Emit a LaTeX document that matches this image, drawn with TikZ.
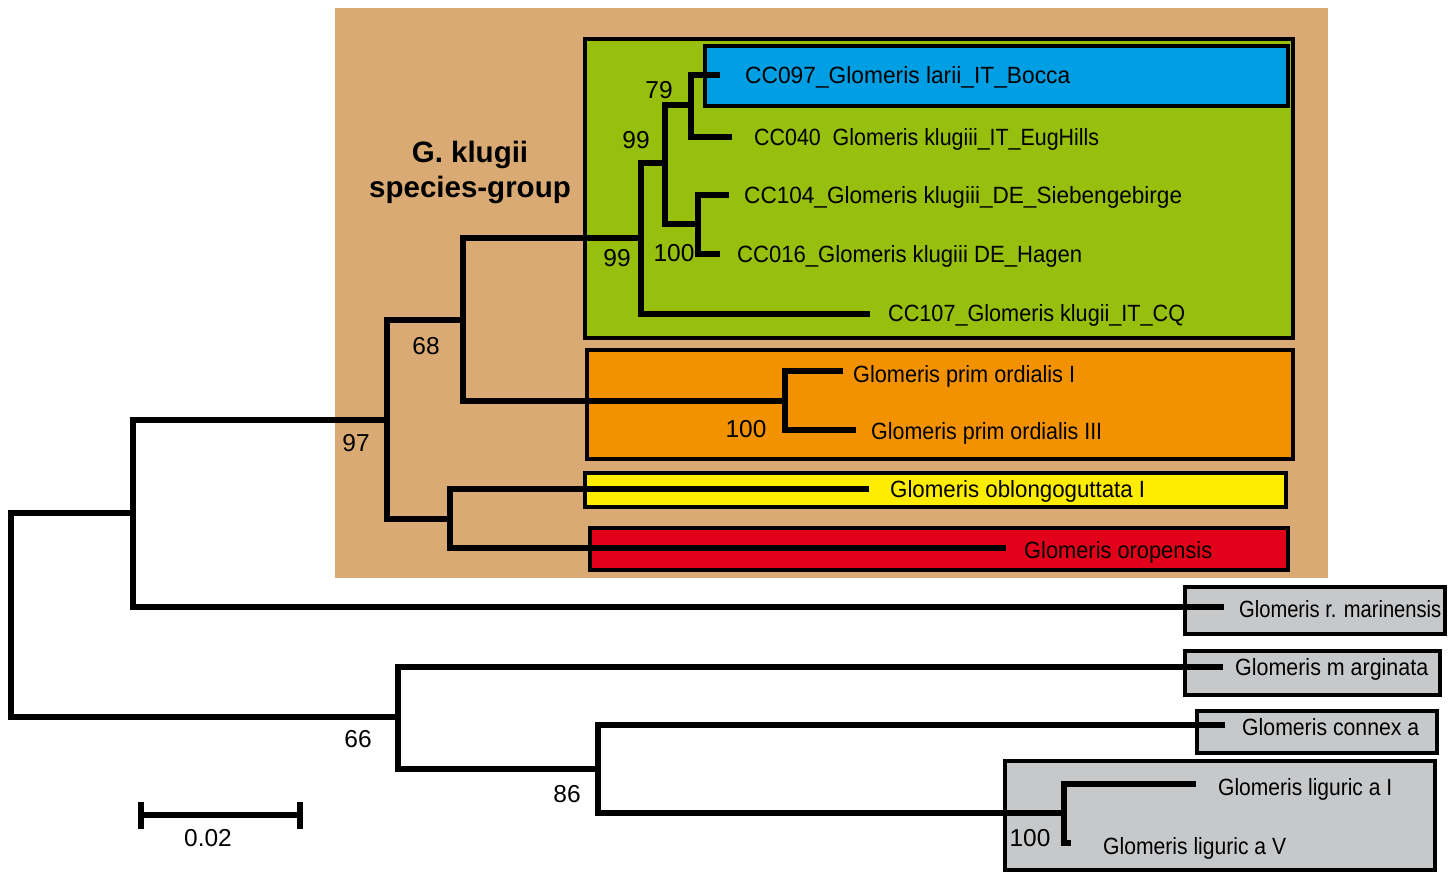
\documentclass[tikz,border=0pt]{standalone}
\usepackage{fontspec}
\usepackage{graphicx}
\setmainfont{Liberation Sans}
\definecolor{tan}{RGB}{217,170,115}
\definecolor{kgreen}{RGB}{151,191,13}
\definecolor{kblue}{RGB}{0,159,227}
\definecolor{korange}{RGB}{243,146,0}
\definecolor{kyellow}{RGB}{255,237,0}
\definecolor{kred}{RGB}{226,0,26}
\definecolor{kgrey}{RGB}{199,200,202}
\newcommand\lab[2]{\resizebox{#1pt}{\height}{#2}}
\begin{document}
\begin{tikzpicture}[x=1pt,y=-1pt,
  box/.style={draw=black,line width=4pt},
  branch/.style={draw=black,line width=6pt,line join=miter,line cap=butt},
  tiplab/.style={anchor=west,inner sep=0pt,font=\fontsize{23.5}{27}\selectfont,text height=16.8pt,text depth=0pt},
  support/.style={anchor=center,inner sep=0pt,font=\fontsize{24.5}{28}\selectfont,text height=17.5pt,text depth=0pt},
  title/.style={anchor=center,inner sep=0pt,font=\fontsize{29.5}{33}\bfseries\selectfont,text height=21pt,text depth=0pt}]
\useasboundingbox (0,0) rectangle (1455,873);
% background group
\fill[tan] (335,8) rectangle (1328,578);
% coloured boxes
\draw[box,fill=kgreen] (585,39) rectangle (1293,338);
\draw[box,fill=kblue] (705,46) rectangle (1288,106);
\draw[box,fill=korange] (587,350) rectangle (1293,459);
\draw[box,fill=kyellow] (585,473) rectangle (1286,507);
\draw[box,fill=kred] (590,528) rectangle (1288,570);
\draw[box,fill=kgrey] (1185,587) rectangle (1445,634);
\draw[box,fill=kgrey] (1185,651) rectangle (1440,695);
\draw[box,fill=kgrey] (1197,711) rectangle (1437,753);
\draw[box,fill=kgrey] (1005,761) rectangle (1435,870);
% tips
\coordinate (t097) at (720,75);
\coordinate (t040) at (732,137);
\coordinate (t104) at (729,195);
\coordinate (t016) at (720,254);
\coordinate (t107) at (870,314);
\coordinate (tpI) at (843,371);
\coordinate (tpIII) at (856,430);
\coordinate (tob) at (869,489);
\coordinate (tor) at (1006,548);
\coordinate (tmar) at (1224,607);
\coordinate (tmarg) at (1223,667);
\coordinate (tcon) at (1225,725);
\coordinate (tlI) at (1196,784);
\coordinate (tlV) at (1071,843);
% internal nodes
\coordinate (F) at (691,105);
\coordinate (G) at (698,224);
\coordinate (E) at (665,163);
\coordinate (D) at (641,238);
\coordinate (P) at (785,401);
\coordinate (C) at (463,320);
\coordinate (H) at (450,519);
\coordinate (B) at (387,420);
\coordinate (A) at (133,513);
\coordinate (K) at (1064,813);
\coordinate (J) at (598,769);
\coordinate (I) at (398,717);
\coordinate (R) at (11,615);
% branches
\draw[branch] (t097) -| (F) |- (t040);
\draw[branch] (t104) -| (G) |- (t016);
\draw[branch] (F) -| (E) |- (G);
\draw[branch] (E) -| (D) |- (t107);
\draw[branch] (tpI) -| (P) |- (tpIII);
\draw[branch] (D) -| (C) |- (P);
\draw[branch] (tob) -| (H) |- (tor);
\draw[branch] (C) -| (B) |- (H);
\draw[branch] (B) -| (A) |- (tmar);
\draw[branch] (tlI) -| (K) |- (tlV);
\draw[branch] (tcon) -| (J) |- (K);
\draw[branch] (tmarg) -| (I) |- (J);
\draw[branch] (A) -| (R) |- (I);
% tip labels
\node[tiplab] (l097) at (745,75) {\lab{325}{CC097\_Glomeris larii\_IT\_Bocca}};
\node[tiplab] (l040) at (754,137) {\lab{345}{CC040 \ Glomeris klugiii\_IT\_EugHills}};
\node[tiplab] (l104) at (744,195) {\lab{438}{CC104\_Glomeris klugiii\_DE\_Siebengebirge}};
\node[tiplab] (l016) at (737,254) {\lab{345}{CC016\_Glomeris klugiii DE\_Hagen}};
\node[tiplab] (l107) at (888,313) {\lab{297}{CC107\_Glomeris klugii\_IT\_CQ}};
\node[tiplab] (lpI) at (853,374) {\lab{222}{Glomeris prim ordialis I}};
\node[tiplab] (lpIII) at (871,431) {\lab{231}{Glomeris prim ordialis III}};
\node[tiplab] (lob) at (890,489) {\lab{255}{Glomeris oblongoguttata I}};
\node[tiplab] (lor) at (1024,550) {\lab{188}{Glomeris oropensis}};
\node[tiplab] (lmar) at (1239,609) {\lab{202}{Glomeris r. marinensis}};
\node[tiplab] (lmarg) at (1235,667) {\lab{193}{Glomeris m arginata}};
\node[tiplab] (lcon) at (1242,727) {\lab{177}{Glomeris connex a}};
\node[tiplab] (llI) at (1218,787) {\lab{174}{Glomeris liguric a I}};
\node[tiplab] (llV) at (1103,846) {\lab{183}{Glomeris liguric a V}};
% support values
\node[support] (s79) at (659,90) {79};
\node[support] (s99a) at (636,140) {99};
\node[support] (s99b) at (617,258) {99};
\node[support] (s100a) at (674,253) {100};
\node[support] (s68) at (426,346) {68};
\node[support] (s97) at (356,443) {97};
\node[support] (s100b) at (746,429) {100};
\node[support] (s66) at (358,739) {66};
\node[support] (s86) at (567,794) {86};
\node[support] (s100c) at (1030,838) {100};
% group title
\node[title] (g1) at (470,152) {G. klugii};
\node[title] (g2) at (470,187) {species-group};
% scale bar
\coordinate (sbL) at (141,815);
\coordinate (sbR) at (300,815);
\draw[line width=6pt] (sbL) -- (sbR);
\draw[line width=6pt] ([yshift=-13.5pt]sbL) -- ([yshift=13.5pt]sbL);
\draw[line width=6pt] ([yshift=-13.5pt]sbR) -- ([yshift=13.5pt]sbR);
\node[support] (sb) at (208,838) {0.02};
\end{tikzpicture}
\end{document}
